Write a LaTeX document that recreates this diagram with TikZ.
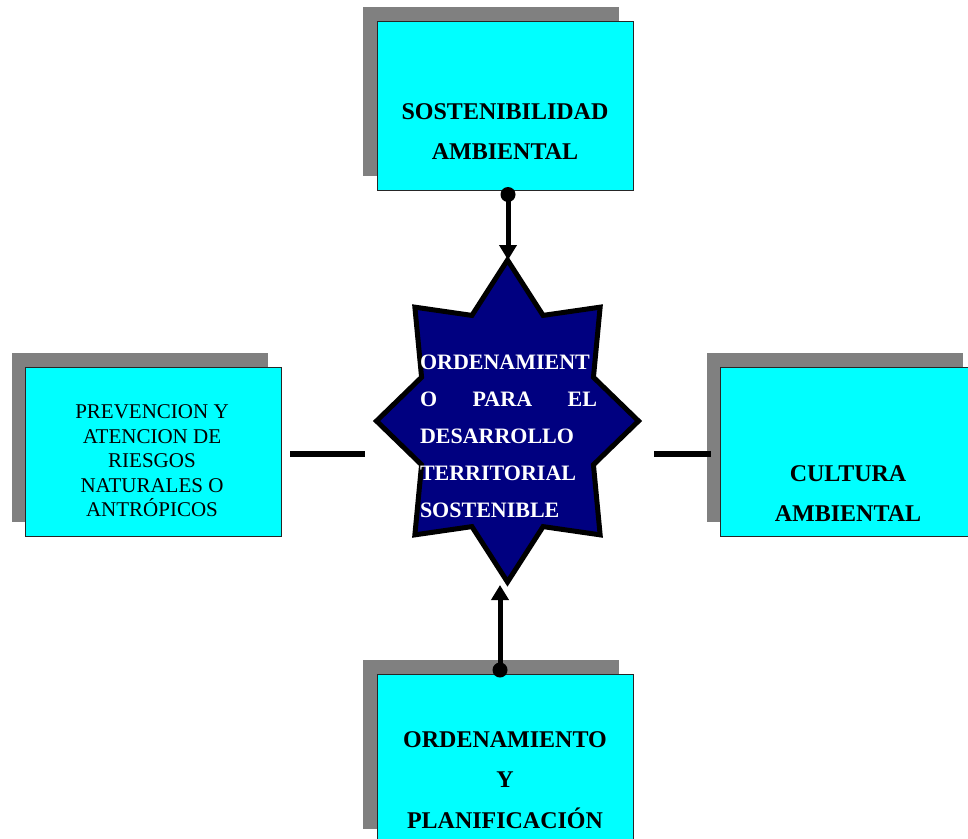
\documentclass[tikz,border=0pt]{standalone}
\usepackage{fontspec}
\setmainfont{Liberation Serif}
\usetikzlibrary{arrows.meta,shadows}
\definecolor{boxcyan}{RGB}{0,255,255}
\definecolor{starblue}{RGB}{0,0,128}
\definecolor{shadowgray}{RGB}{128,128,128}

\begin{document}
\begin{tikzpicture}[x=1pt, y=-1pt,
    box/.style={draw=black!85, line width=1pt, fill=boxcyan,
        minimum width=256pt, minimum height=169pt, inner sep=0pt,
        drop shadow={shadow xshift=-14pt, shadow yshift=14pt, fill=shadowgray, opacity=1}},
    boldtxt/.style={font=\fontsize{24}{40.5}\selectfont\bfseries, align=center, inner sep=0pt},
    plaintxt/.style={font=\fontsize{21}{24.5}\selectfont, align=center, inner sep=0pt},
    startxt/.style={font=\fontsize{22}{37}\selectfont\bfseries, text=white,
        text width=177pt, align=left, inner sep=0pt},
    starshape/.style={draw=black, line width=5pt, fill=starblue},
    link/.style={line width=5pt, -{Triangle[length=15pt,width=17pt]}},
    bar/.style={line width=6pt}]
  \useasboundingbox (0,0) rectangle (968,838);

% boxes
  \node[box] (sost) at (505,105.5) {};
  \node[box] (prev) at (153.5,451.5) {};
  \node[box] (cult) at (848.5,451.5) {};
  \node[box] (orde) at (505,758.5) {};

  \node[boldtxt] (sosttext) at (505,131.5) {SOSTENIBILIDAD\\AMBIENTAL};
  \node[plaintxt] (prevtext) at (152,461) {PREVENCION Y\\ATENCION DE\\RIESGOS\\NATURALES O\\ANTRÓPICOS};
  \node[boldtxt] (culttext) at (848,493.5) {CULTURA\\AMBIENTAL};
  \node[boldtxt] (ordetext) at (505,780) {ORDENAMIENTO\\Y\\PLANIFICACIÓN};

% star
\begin{scope}[shift={(507.5,421)}]
  \draw[starshape] (90:131 and 161)
    \foreach \k [evaluate=\k as \r using {mod(\k,2)==1 ? 0.71 : 1}] in {1,...,15}
    { -- ({90+22.5*\k}:{131*\r} and {161*\r}) } -- cycle;
\end{scope}
  \node[startxt] (startext) at (508.5,436)
    {ORDENAMIENT\\O\hfill PARA\hfill EL\\DESARROLLO\\TERRITORIAL\\SOSTENIBLE};

% connectors
  \coordinate (topdot) at (508,194.5);
  \coordinate (startop) at (508,260);
  \coordinate (botdot) at (500,670);
  \coordinate (starbot) at (500,585);
  \draw[link] (topdot) -- (startop);
  \draw[link] (botdot) -- (starbot);
  \fill (topdot) circle (7.5pt);
  \fill (botdot) circle (7.5pt);

  \coordinate (leftA) at (290,454);
  \coordinate (leftB) at (365,454);
  \coordinate (rightA) at (654,454);
  \coordinate (rightB) at (711,454);
  \draw[bar] (leftA) -- (leftB);
  \draw[bar] (rightA) -- (rightB);
\end{tikzpicture}
\end{document}
